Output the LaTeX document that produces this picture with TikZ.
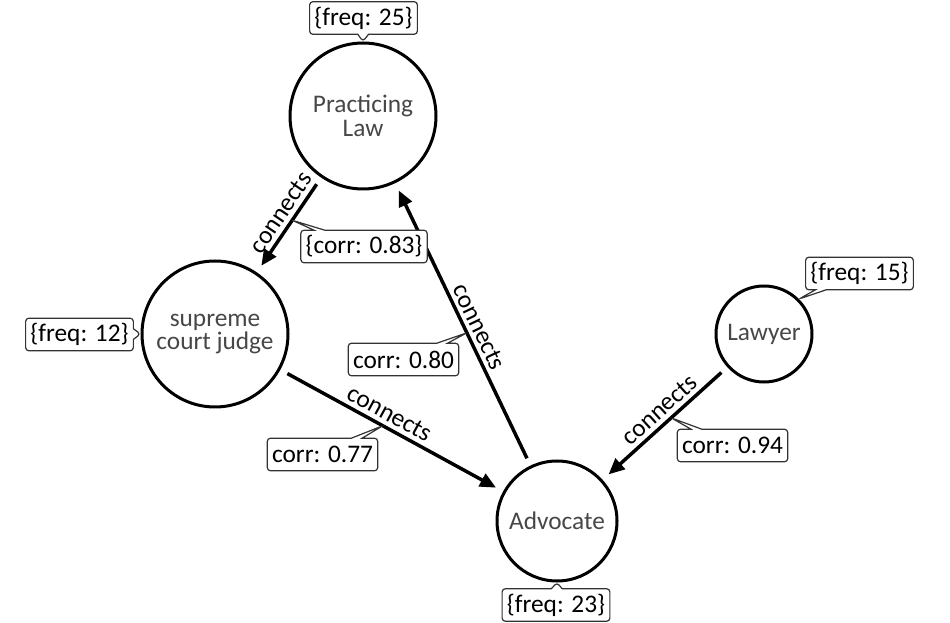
\documentclass[tikz,border=0pt]{standalone}
\usepackage{fontspec}
\setmainfont{Carlito}
\usetikzlibrary{shapes.callouts,arrows.meta}
\begin{document}
\begin{tikzpicture}[x=0.75pt,y=-0.75pt,
  concept/.style={circle,draw=black,line width=2.25pt,text=black!72,align=center,font=\fontsize{19}{17.5}\selectfont,inner sep=0pt},
  rel/.style={line width=2.6pt,-{Triangle[length=12pt,width=10.5pt]},shorten <=6pt,shorten >=6pt},
  lbl/.style={font=\fontsize{19}{20}\selectfont,sloped,above,inner sep=3pt},
  tag/.style={rectangle callout,draw=black!80,line width=0.9pt,fill=white,rounded corners=2.5pt,font=\fontsize{19}{20}\selectfont,inner xsep=3.6pt,inner ysep=0pt,minimum height=24.5pt,callout pointer width=8pt}
]
\useasboundingbox[fill=white] (0,0) rectangle (950,623);

\node[concept,minimum size=109.5pt] (pl) at (363,116) {Practicing\\Law};
\node[concept,minimum size=109.5pt] (scj) at (215,334) {supreme\\court judge};
\node[concept,minimum size=90pt] (adv) at (557,521) {Advocate};
\node[concept,minimum size=72pt] (lw) at (764,334) {Lawyer};

\draw[rel] (pl) -- node[lbl,pos=0.45]{connects} coordinate[pos=0.45] (e1) (scj);
\draw[rel] (adv) -- node[lbl,pos=0.47]{connects} coordinate[pos=0.47] (e2) (pl);
\draw[rel] (scj) -- node[lbl,pos=0.46]{connects} coordinate[pos=0.46] (e3) (adv);
\draw[rel] (lw) -- node[lbl,pos=0.47]{connects} coordinate[pos=0.45] (e4) (adv);

\node[tag,callout absolute pointer={(pl.north)}] (f1) at (363.5,18) {\{freq: 25\}};
\node[tag,callout absolute pointer={(scj.west)}] (f2) at (79.5,334.5) {\{freq: 12\}};
\node[tag,callout absolute pointer={(adv.south)}] (f3) at (556,605) {\{freq: 23\}};
\node[tag,callout absolute pointer={(lw.45)}] (f4) at (859.5,273.5) {\{freq: 15\}};
\node[tag,callout absolute pointer={(e1)}] (c1) at (364,246.5) {\{corr: 0.83\}};
\node[tag,callout absolute pointer={(e2)}] (c2) at (403.5,359.5) {corr: 0.80};
\node[tag,callout absolute pointer={(e3)}] (c3) at (322.5,454.5) {corr: 0.77};
\node[tag,callout absolute pointer={(e4)}] (c4) at (732.5,445.5) {corr: 0.94};
\end{tikzpicture}
\end{document}
